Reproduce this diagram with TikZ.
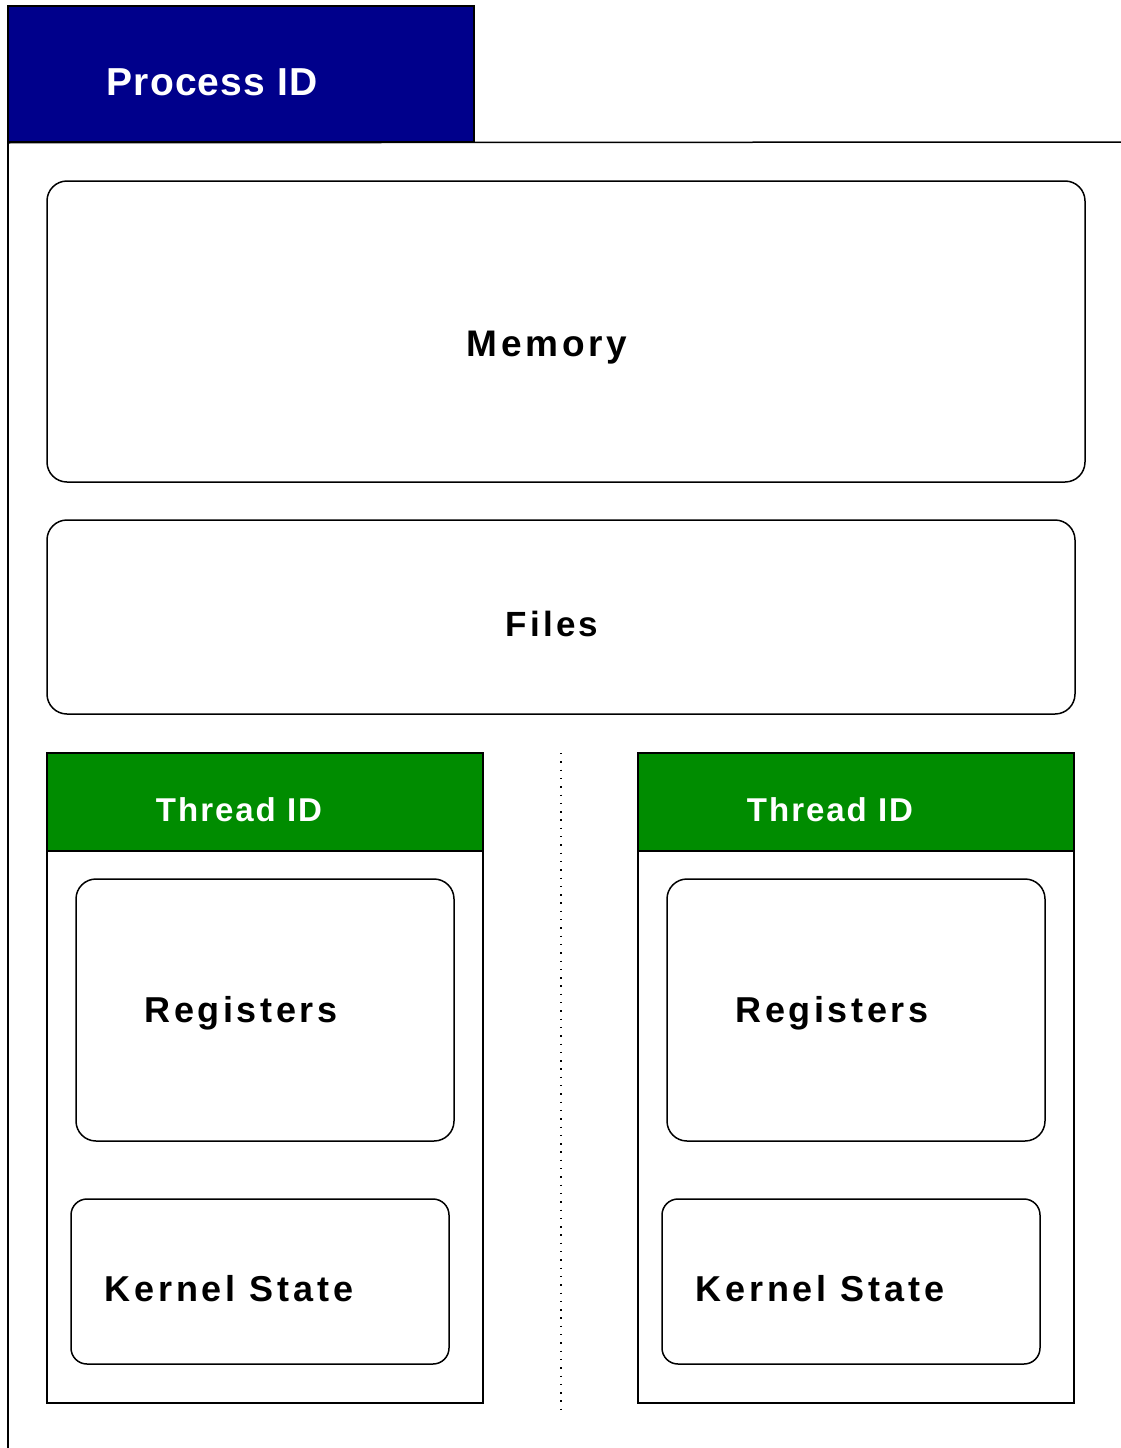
\documentclass[tikz,border=0pt]{standalone}
\usepackage{fontspec}
\setmainfont{Liberation Sans}
\definecolor{pidblue}{RGB}{0,0,139}
\definecolor{tidgreen}{RGB}{0,140,0}
\begin{document}
\begin{tikzpicture}[x=1pt,y=-1pt,line width=1.5pt,
  part/.style={draw,rectangle,inner sep=0pt},
  soft/.style={part,rounded corners=20pt},
  txt/.style={anchor=base,inner sep=0pt,font=\fontsize{36}{36}\selectfont\bfseries\addfontfeature{LetterSpace=10}}]
 \useasboundingbox (0,0) rectangle (1121,1448);
 % process frame
 \coordinate (top) at (8,6);
 \coordinate (bot) at (8,1448);
 \coordinate (rim) at (1121,142);
 \node[part,fill=pidblue,minimum width=466pt,minimum height=136pt] (pid) at (241,74) {};
 \draw (top) -- (bot);
 \draw (pid.south west) -- (rim);
 \node[txt,white,font=\fontsize{39}{39}\selectfont\bfseries\addfontfeature{LetterSpace=3}] (pidtext) at (212,95) {Process ID};
 % shared parts
 \node[soft,minimum width=1038pt,minimum height=301pt] (mem) at (566,331.5) {};
 \node[txt,font=\fontsize{37}{37}\selectfont\bfseries\addfontfeature{LetterSpace=10}] (memtext) at (547,356) {Memory};
 \node[soft,minimum width=1028pt,minimum height=194pt] (files) at (561,617) {};
 \node[txt,font=\fontsize{35}{35}\selectfont\bfseries\addfontfeature{LetterSpace=9}] (filestext) at (552,636) {Files};
 % threads
 \foreach \i/\dx in {1/0,2/591}{
  \node[part,minimum width=436pt,minimum height=650pt] (thread\i) at (265+\dx,1078) {};
  \node[part,fill=tidgreen,minimum width=436pt,minimum height=98pt,anchor=north] (tid\i) at (thread\i.north) {};
  \node[txt,white,font=\fontsize{33}{33}\selectfont\bfseries\addfontfeature{LetterSpace=6}] (tidtext\i) at (239+\dx,821) {Thread ID};
  \node[soft,minimum width=378pt,minimum height=262pt] (reg\i) at (265+\dx,1010) {};
  \node[txt] (regtext\i) at (241+\dx,1022) {Registers};
  \node[soft,rounded corners=16pt,minimum width=378pt,minimum height=165pt] (kern\i) at (260+\dx,1281.5) {};
  \node[txt,font=\fontsize{36}{36}\selectfont\bfseries\addfontfeature{LetterSpace=11}] (kerntext\i) at (229+\dx,1301) {Kernel State};
 }
 \coordinate (sepa) at (561,753);
 \coordinate (sepb) at (561,1412);
 \draw[line width=1.2pt,dash pattern=on 1.4pt off 6.9pt] (sepa) -- (sepb);
\end{tikzpicture}
\end{document}
